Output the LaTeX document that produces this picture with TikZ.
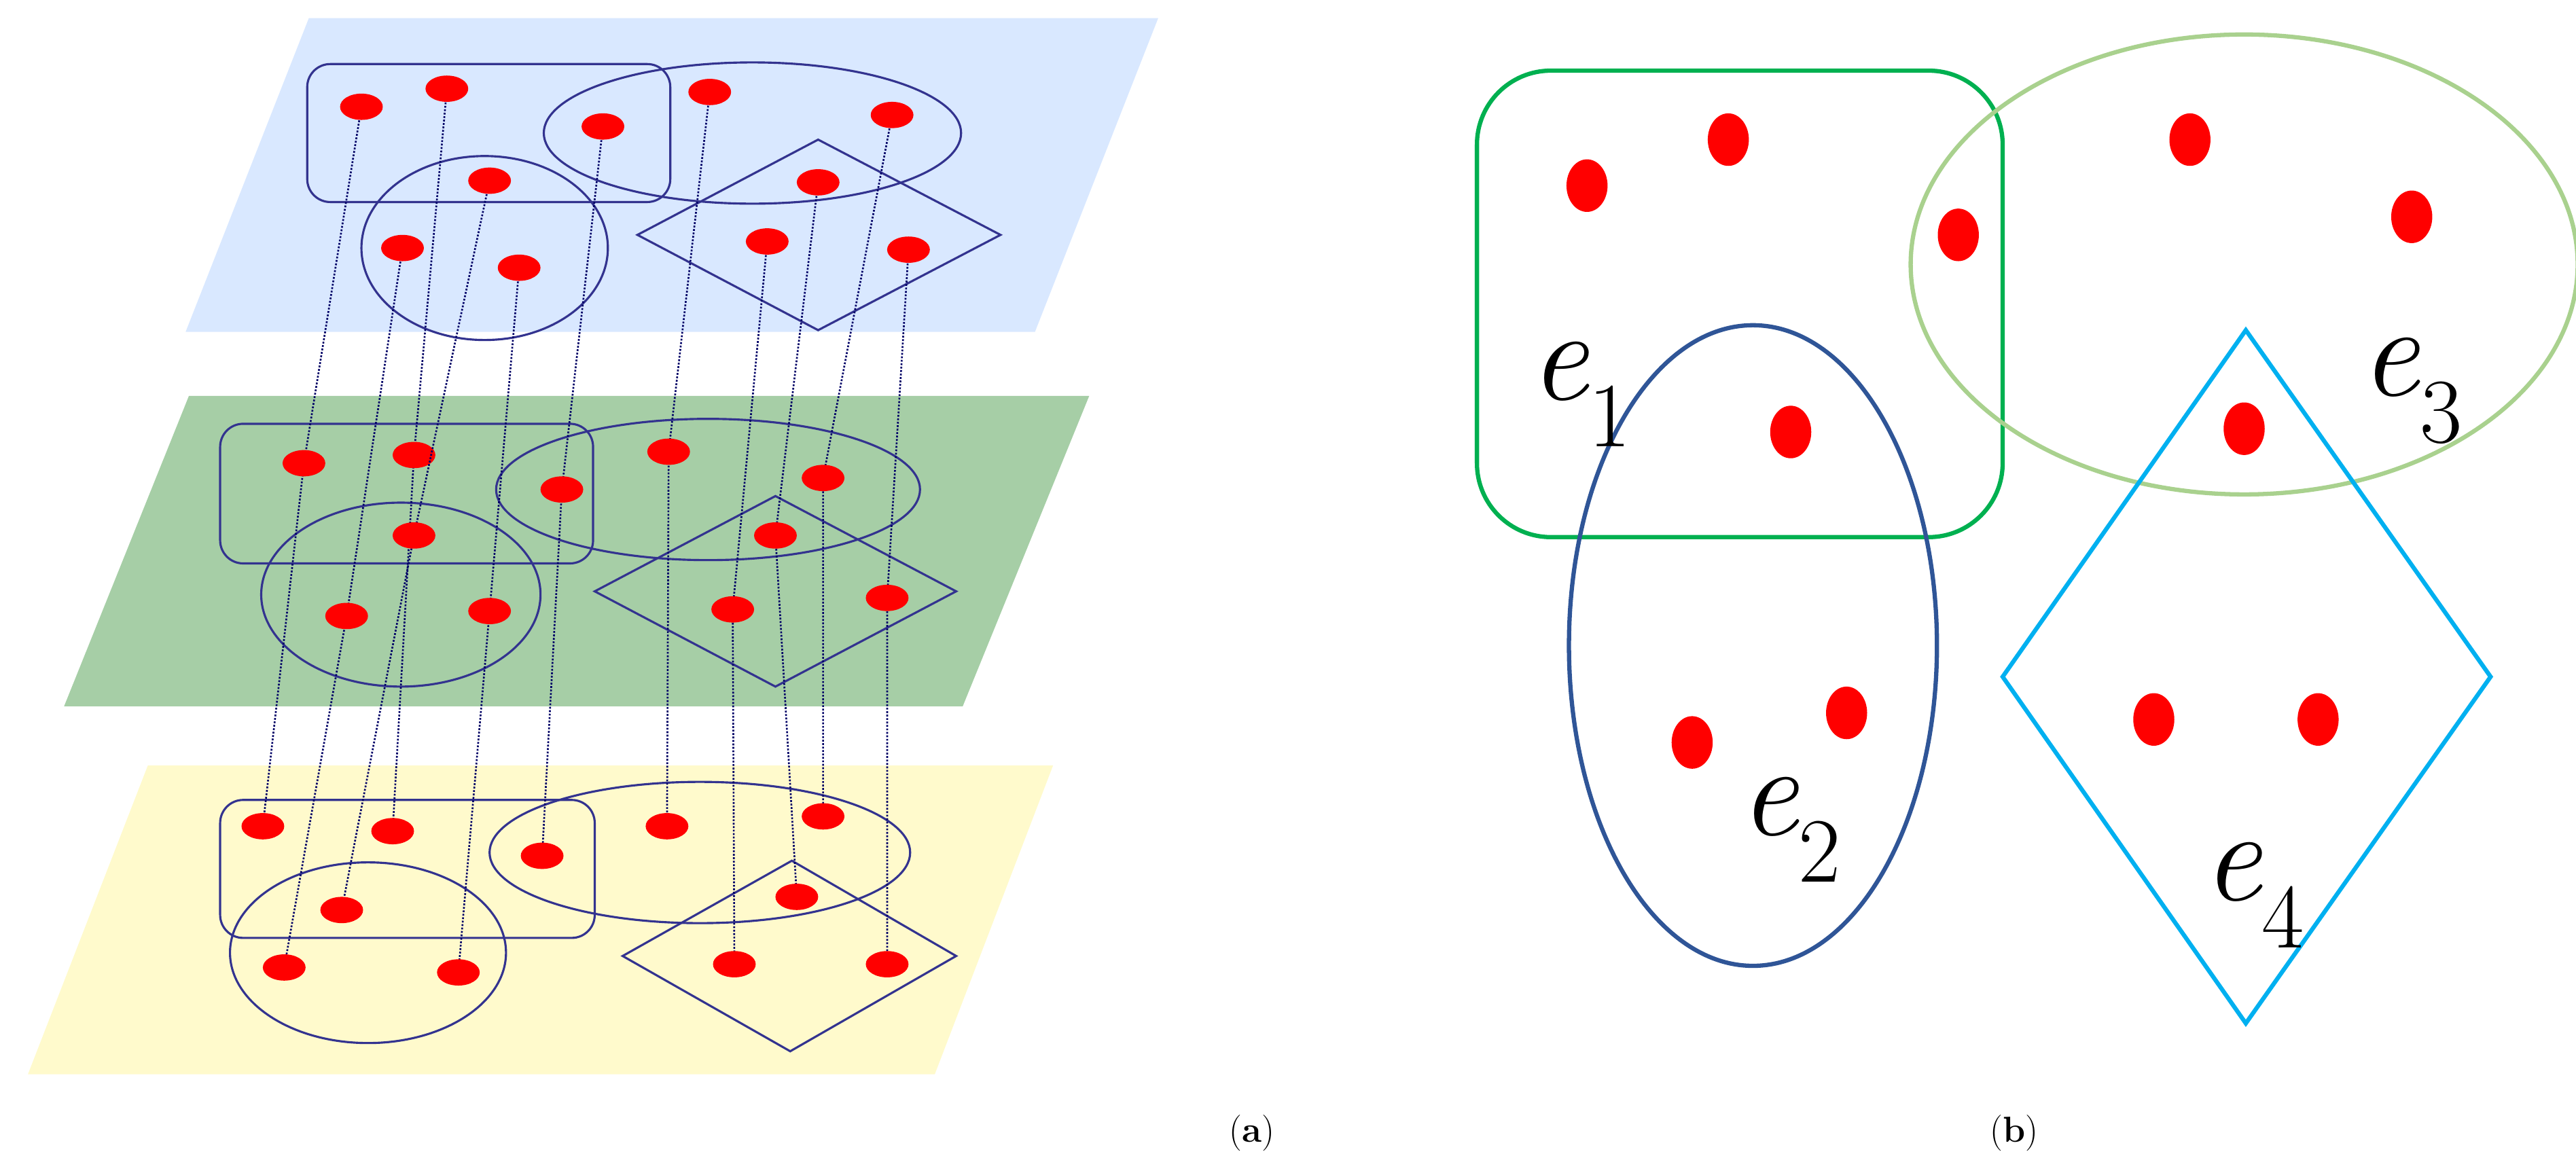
\documentclass[tikz,border=0pt]{standalone}
\begin{document}
\begin{tikzpicture}[x=1pt,y=-1pt,
  sh/.style={draw=blue!45!black!80, line width=1.3pt},
  dot/.style={fill=red, draw=none},
  ln/.style={draw=blue!40!black, densely dotted, line width=1.1pt},
  lab/.style={font=\fontsize{80}{90}\selectfont\itshape}]
\useasboundingbox (0,0) rectangle (1568,714);
% planes
\fill[blue!15!white,fill=blue!60!cyan!15] (188,11) -- (705,11) -- (630,202) -- (113,202) -- cycle;
\fill[fill=green!45!black!35!white, fill opacity=1] (115,241) -- (663,241) -- (586,430) -- (39,430) -- cycle;
\fill[fill=orange!20!yellow!20] (90,466) -- (641,466) -- (569,654) -- (17,654) -- cycle;
% shapes
\foreach \L/\rx/\ry/\rxa/\rya/\ex/\ey/\cx/\cy/\cr/\cs/\dt/\dl/\dr/\db/\dy/\dxx in {%
 t/187/39/408/123/458/81/295/151/75/56/498,85/388,143/609,143/498,201,
 m/134/258/361/343/431/298/244/362/85/56/472,302/362,360/582,360/472,418,
 b/134/487/362/571/426/519/224/580/84/55/482,524/379,582/582,582/481,640}{}
% top
\draw[sh, rounded corners=14pt] (187,39) rectangle (408,123);
\draw[sh] (458,81) ellipse [x radius=127, y radius=43];
\draw[sh] (295,151) ellipse [x radius=75, y radius=56];
\draw[sh] (498,85) -- (609,143) -- (498,201) -- (388,143) -- cycle;
% middle
\draw[sh, rounded corners=14pt] (134,258) rectangle (361,343);
\draw[sh] (431,298) ellipse [x radius=129, y radius=43];
\draw[sh] (244,362) ellipse [x radius=85, y radius=56];
\draw[sh] (472,302) -- (582,360) -- (472,418) -- (362,360) -- cycle;
% bottom
\draw[sh, rounded corners=14pt] (134,487) rectangle (362,571);
\draw[sh] (426,519) ellipse [x radius=128, y radius=43];
\draw[sh] (224,580) ellipse [x radius=84, y radius=55];
\draw[sh] (482,524) -- (582,582) -- (481,640) -- (379,582) -- cycle;
% dots coordinates
\foreach \n/\tx/\ty/\mx/\my/\bx/\by in {
 A/220/65/185/282/160/503, B/272/54/252/277/239/506, C/367/77/342/298/330/521,
 D/432/56/407/275/406/503, E/543/70/501/291/501/497, F/298/110/252/326/208/554,
 G/498/111/472/326/485/546, H/245/151/211/375/173/589, I/316/163/298/372/279/592,
 J/467/147/446/371/447/587, K/553/152/540/364/540/587}{
  \coordinate (t\n) at (\tx,\ty);
  \coordinate (m\n) at (\mx,\my);
  \coordinate (b\n) at (\bx,\by);
  \draw[ln] (t\n) -- (m\n) -- (b\n);
  \fill[dot] (t\n) ellipse [x radius=13, y radius=8];
  \fill[dot] (m\n) ellipse [x radius=13, y radius=8];
  \fill[dot] (b\n) ellipse [x radius=13, y radius=8];
}
\node[font=\fontsize{22}{26}\selectfont] (la) at (762,690) {(\textbf{a})};
% right panel
\definecolor{cg}{HTML}{00B050}\definecolor{clg}{HTML}{A9D18E}
\definecolor{cb}{HTML}{2F5597}\definecolor{cc}{HTML}{00B0F0}
\draw[cg, line width=2.6pt, rounded corners=45pt] (899,43) rectangle (1219,327);
\draw[clg, line width=2.6pt] (1366,161) ellipse [x radius=203, y radius=140];
\draw[cb, line width=2.6pt] (1067,393) ellipse [x radius=112, y radius=195];
\draw[cc, line width=2.6pt] (1367,201) -- (1516,412) -- (1367,623) -- (1219,412) -- cycle;
\foreach \x/\y in {966/113,1052/85,1192/143,1333/85,1468/132,1090/263,1366/261,1030/452,1124/434,1311/438,1411/438}
  \fill[dot] (\x,\y) ellipse [x radius=12.5, y radius=16];
\node[lab] (e1) at (962,240) {e\textsubscript{\upshape 1}};
\node[lab] (e2) at (1090,505) {e\textsubscript{\upshape 2}};
\node[lab] (e3) at (1468,238) {e\textsubscript{\upshape 3}};
\node[lab] (e4) at (1372,545) {e\textsubscript{\upshape 4}};
\node[font=\fontsize{22}{26}\selectfont] (lb) at (1226,690) {(\textbf{b})};
\end{tikzpicture}
\end{document}
